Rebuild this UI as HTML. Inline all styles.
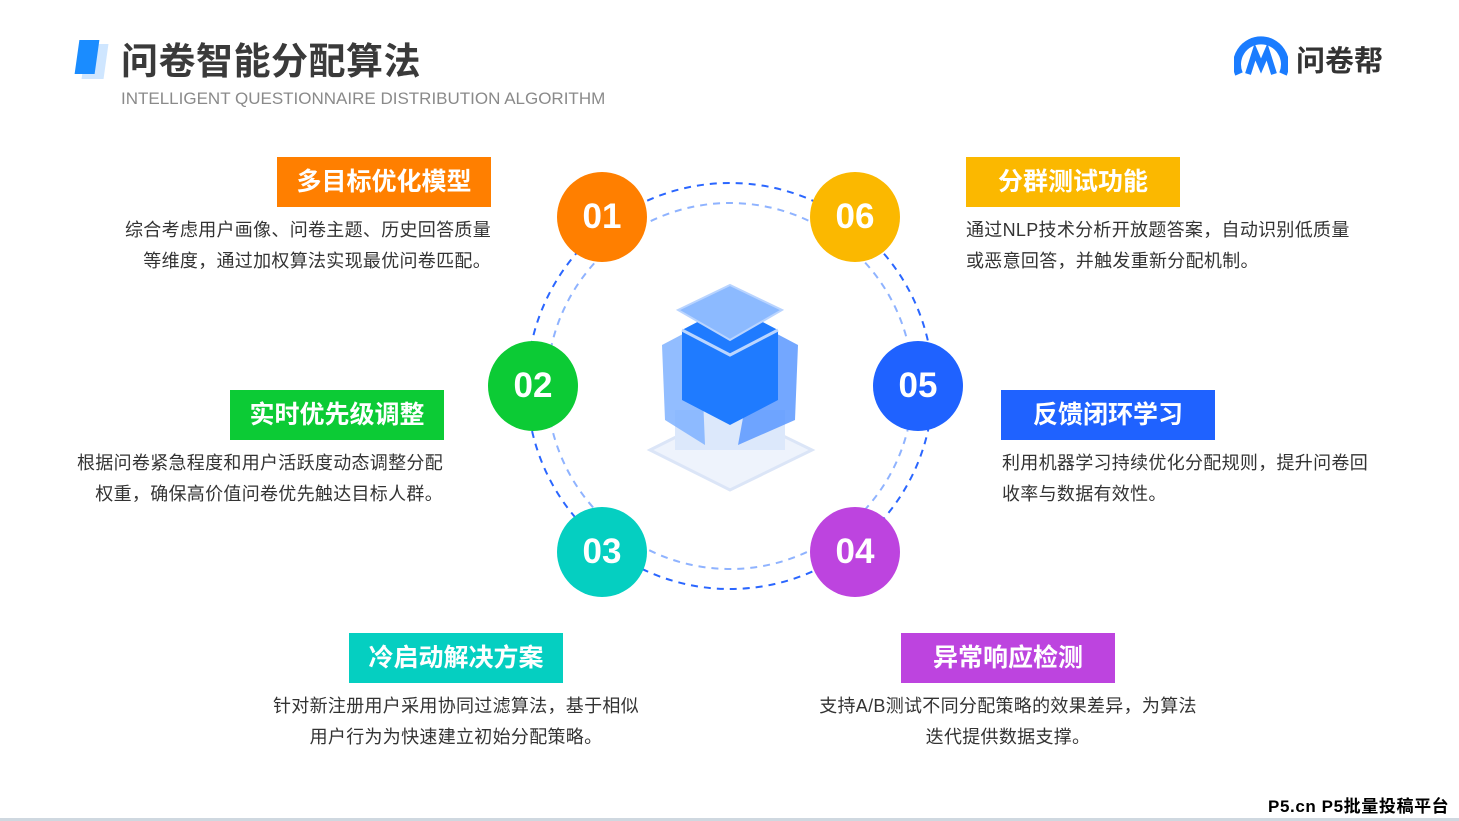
<!DOCTYPE html>
<html><head><meta charset="utf-8"><style>
body{margin:0;width:1459px;height:821px;background:#fff;position:relative;overflow:hidden;font-family:"Liberation Sans","Noto Sans CJK SC",sans-serif}
.a{position:absolute}
.tag{position:absolute;color:#fff;font-size:25px;font-weight:bold;height:50px;line-height:50px;text-align:center}
.d{position:absolute;font-size:18px;color:#333;line-height:31px;letter-spacing:0.3px;white-space:nowrap}
.c{position:absolute;width:90px;height:90px;border-radius:50%;color:#fff;font-size:35px;font-weight:bold;text-align:center;line-height:90px}
</style></head><body>
<div class="a" style="width:22px;height:35px;background:#cfe6ff;transform:skewX(-8deg);left:84px;top:44px"></div>
<div class="a" style="left:77px;top:40px;width:20px;height:34px;background:#1a8cff;transform:skewX(-8deg)"></div>
<div class="a" style="left:121px;top:31px;font-size:37px;font-weight:bold;color:#3a3a3a;letter-spacing:0.5px">问卷智能分配算法</div>
<div class="a" style="left:121px;top:89px;font-size:17px;color:#8a8a8a">INTELLIGENT QUESTIONNAIRE DISTRIBUTION ALGORITHM</div>
<svg class="a" style="left:1234px;top:34px" width="54" height="44"><path d="M5 40 A24 24 0 1 1 49 40" stroke="#1a7cff" stroke-width="8" fill="none"/><path d="M14 40 L21 18 L27 32 L33 18 L40 40" stroke="#1a7cff" stroke-width="6" fill="none"/></svg>
<div class="a" style="left:1296px;top:38px;font-size:29px;font-weight:bold;color:#333">问卷帮</div>

<svg class="a" style="left:0;top:0" width="1459" height="821">
<circle cx="730" cy="386" r="203" fill="none" stroke="#2a66ff" stroke-width="2" stroke-dasharray="7 6"/>
<circle cx="730" cy="386" r="183" fill="none" stroke="#8fb3ff" stroke-width="2" stroke-dasharray="7 6"/>
<path d="M650 450 L730 410 L812 450 L730 490 Z" fill="#eef3fc" stroke="#dbe5f7" stroke-width="3"/>
<rect x="675" y="410" width="110" height="40" fill="#dce8fb"/>
<path d="M662 345 L700 325 L705 445 L665 420 Z" fill="#7fb2ff" opacity=".85"/>
<path d="M798 345 L760 325 L738 445 L795 420 Z" fill="#5a98ff" opacity=".85"/>
<path d="M682 330 L730 305 L778 330 L778 400 L730 425 L682 400 Z" fill="#1f7bff"/>
<path d="M682 330 L730 355 L778 330" fill="none" stroke="#bcd6ff" stroke-width="3"/>
<path d="M678 310 L730 285 L782 310 L730 340 Z" fill="#8cbaff" stroke="#b9d4ff" stroke-width="2"/>
</svg>

<div class="c" style="left:557px;top:172px;background:#ff7f00">01</div>
<div class="c" style="left:810px;top:172px;background:#fbb800">06</div>
<div class="c" style="left:488px;top:341px;background:#0ccb35">02</div>
<div class="c" style="left:873px;top:341px;background:#1f62ff">05</div>
<div class="c" style="left:557px;top:507px;background:#05cfc1">03</div>
<div class="c" style="left:810px;top:507px;background:#bd44df">04</div>

<div class="tag" style="left:277px;top:157px;width:214px;background:#ff7f00">多目标优化模型</div>
<div class="d" style="left:40px;top:215px;width:451px;text-align:right">综合考虑用户画像、问卷主题、历史回答质量<br>等维度，通过加权算法实现最优问卷匹配。</div>
<div class="tag" style="left:966px;top:157px;width:214px;background:#fbb800">分群测试功能</div>
<div class="d" style="left:966px;top:215px;width:450px">通过NLP技术分析开放题答案，自动识别低质量<br>或恶意回答，并触发重新分配机制。</div>
<div class="tag" style="left:230px;top:390px;width:214px;background:#0ccb35">实时优先级调整</div>
<div class="d" style="left:0px;top:448px;width:443px;text-align:right">根据问卷紧急程度和用户活跃度动态调整分配<br>权重，确保高价值问卷优先触达目标人群。</div>
<div class="tag" style="left:1001px;top:390px;width:214px;background:#1f62ff">反馈闭环学习</div>
<div class="d" style="left:1002px;top:448px;width:450px">利用机器学习持续优化分配规则，提升问卷回<br>收率与数据有效性。</div>
<div class="tag" style="left:349px;top:633px;width:214px;background:#05cfc1">冷启动解决方案</div>
<div class="d" style="left:206px;top:691px;width:500px;text-align:center">针对新注册用户采用协同过滤算法，基于相似<br>用户行为为快速建立初始分配策略。</div>
<div class="tag" style="left:901px;top:633px;width:214px;background:#bd44df">异常响应检测</div>
<div class="d" style="left:758px;top:691px;width:500px;text-align:center">支持A/B测试不同分配策略的效果差异，为算法<br>迭代提供数据支撑。</div>
<div class="a" style="left:1268px;top:792px;font-size:17px;font-weight:bold;color:#000;letter-spacing:0.6px">P5.cn P5批量投稿平台</div>
<div class="a" style="left:0;top:818px;width:1459px;height:3px;background:#cfd8e0"></div>
</body></html>
